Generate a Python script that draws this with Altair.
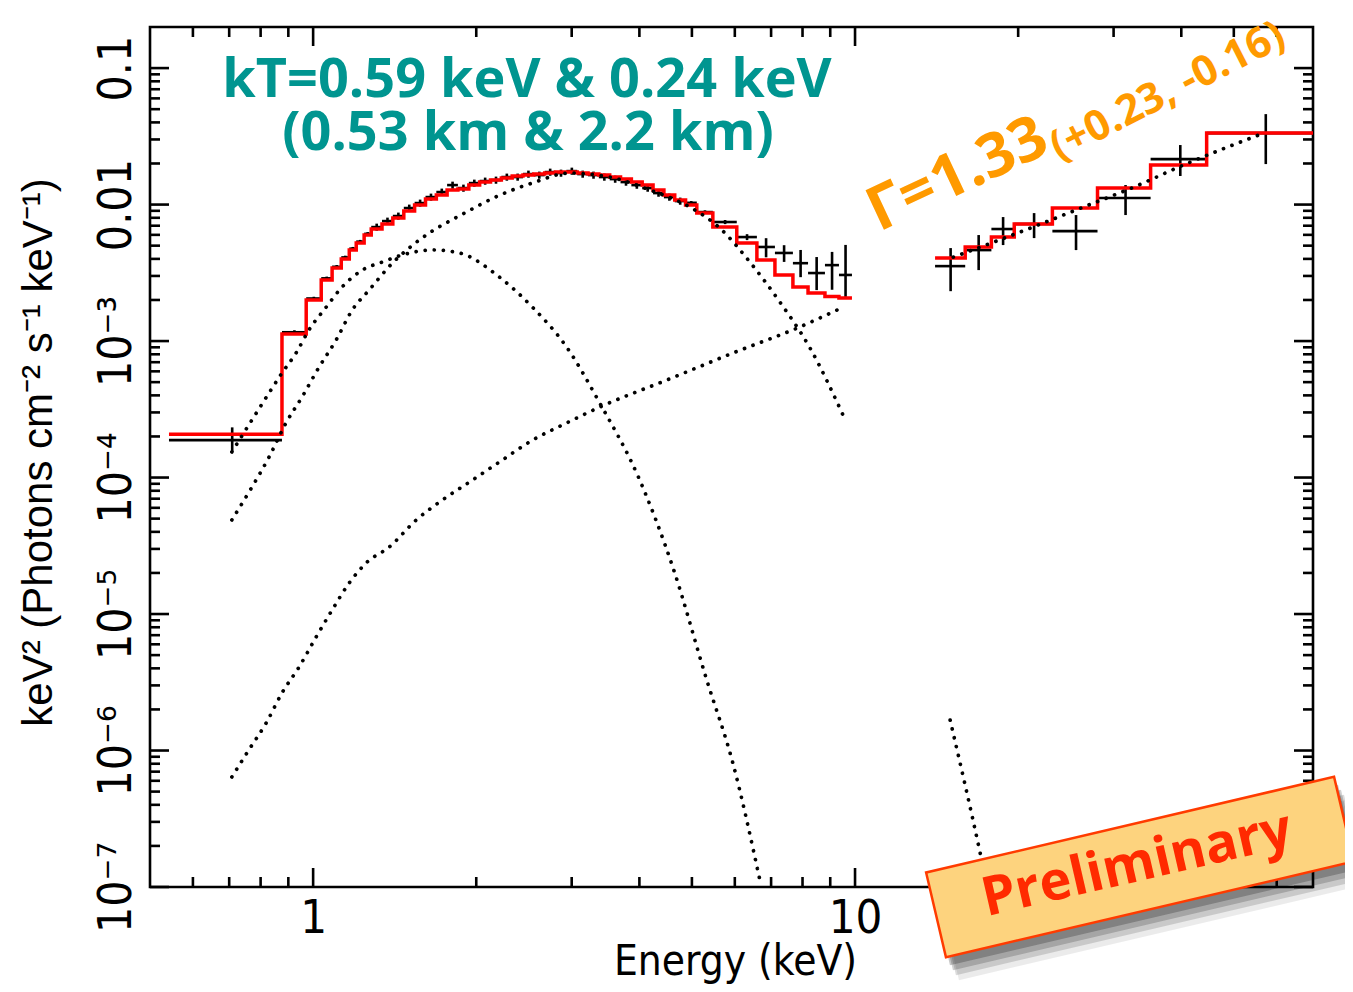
import altair as alt
import pandas as pd

# ---------------- spectrum data ----------------
# soft-band spectrum: bin edges in keV, data, relative errors and folded model
xmm_edges = [0.542, 0.876, 0.971, 1.035, 1.084, 1.127, 1.166, 1.201, 1.242,
             1.280, 1.340, 1.403, 1.470, 1.539, 1.612, 1.688, 1.767, 1.850,
             1.938, 2.029, 2.125, 2.225, 2.330, 2.439, 2.554, 2.675, 2.801,
             2.933, 3.071, 3.216, 3.367, 3.526, 3.692, 3.866, 4.048, 4.239,
             4.439, 4.648, 4.867, 5.105, 5.465, 6.05, 6.59, 7.115, 7.68,
             8.19, 8.80, 9.34, 9.87]
xmm_flux = [1.88e-4, 1.16e-3, 2.05e-3, 2.88e-3, 3.50e-3, 4.10e-3, 4.75e-3, 5.35e-3, 6.10e-3,
            0.00684, 0.00757, 0.00824, 0.00943, 0.01026, 0.01135, 0.01235, 0.01389, 0.01321, 0.01437,
            0.01487, 0.01512, 0.01591, 0.01591, 0.01673, 0.01645, 0.01730, 0.01701, 0.01759, 0.01673,
            0.01645, 0.01591, 0.01537, 0.01462, 0.01389, 0.01321, 0.01214, 0.01135, 0.01061,
            0.0103, 0.00881, 0.00745, 0.00578, 0.00489, 0.00442, 0.00372, 0.00315, 0.00360, 0.00305]
xmm_err_lo = [0.18, 0.035, 0.03, 0.03, 0.03, 0.03, 0.03, 0.03, 0.03,
              0.06, 0.06, 0.06, 0.06, 0.06, 0.06, 0.06, 0.06, 0.06, 0.06,
              0.06, 0.06, 0.06, 0.06, 0.06, 0.06, 0.06, 0.06, 0.06, 0.06,
              0.06, 0.06, 0.06, 0.06, 0.06, 0.06, 0.06, 0.06, 0.06,
              0.03, 0.03, 0.035, 0.05, 0.16, 0.14, 0.21, 0.25, 0.34, 0.31]
xmm_err_hi = [0.24, 0.035, 0.03, 0.03, 0.03, 0.03, 0.03, 0.03, 0.03,
              0.06, 0.06, 0.06, 0.06, 0.06, 0.06, 0.06, 0.06, 0.06, 0.06,
              0.06, 0.06, 0.06, 0.06, 0.06, 0.06, 0.06, 0.06, 0.06, 0.06,
              0.06, 0.06, 0.06, 0.06, 0.06, 0.06, 0.06, 0.06, 0.06,
              0.03, 0.03, 0.035, 0.05, 0.16, 0.14, 0.25, 0.31, 0.25, 0.66]
xmm_model = [2.08e-4, 1.125e-3, 1.995e-3, 2.80e-3, 3.43e-3, 3.99e-3, 4.65e-3, 5.23e-3, 5.98e-3,
             0.00661, 0.00720, 0.00796, 0.00897, 0.00992, 0.01097, 0.01174, 0.01277, 0.01299, 0.01389,
             0.01462, 0.01512, 0.01563, 0.01618, 0.01645, 0.01673, 0.01701, 0.01730, 0.01730, 0.01701,
             0.01673, 0.01645, 0.01591, 0.01537, 0.01462, 0.01389, 0.01277, 0.01174, 0.01079,
             0.00991, 0.00867, 0.00684, 0.00523, 0.00392, 0.00305, 0.00249, 0.00225, 0.00212, 0.00207]

# hard-band spectrum
nu_edges = [14.05, 15.97, 17.85, 19.67, 23.13, 28.02, 35.11, 44.55, 70.0]
nu_flux = [3.54e-3, 4.64e-3, 6.62e-3, 7.20e-3, 6.39e-3, 1.116e-2, 2.154e-2, 3.34e-2]
nu_flux_lo = [2.32e-3, 3.31e-3, 5.05e-3, 5.68e-3, 4.64e-3, 8.38e-3, 1.62e-2, 1.98e-2]
nu_flux_hi = [4.80e-3, 5.98e-3, 8.10e-3, 8.66e-3, 8.38e-3, 1.39e-2, 2.73e-2, 4.60e-2]
nu_model = [4.06e-3, 4.89e-3, 5.78e-3, 7.20e-3, 9.43e-3, 1.32e-2, 1.95e-2, 3.34e-2]

# model components (dotted)
bb_hot_e = [0.708, 0.771, 0.829, 0.891, 0.954, 1.026, 1.103, 1.181, 1.269, 1.400, 1.570,
            1.918, 2.207, 2.540, 2.973, 3.525, 4.179, 4.955, 5.629, 6.397, 7.267, 8.26, 9.502]
bb_hot_f = [4.89e-5, 8.51e-5, 1.41e-4, 2.51e-4, 3.89e-4, 6.46e-4, 1.02e-3, 1.69e-3, 2.37e-3,
            3.72e-3, 5.50e-3, 8.81e-3, 1.17e-2, 1.44e-2, 1.70e-2, 1.59e-2, 1.28e-2, 9.59e-3,
            6.73e-3, 3.79e-3, 1.93e-3, 8.88e-4, 2.87e-4]
bb_cool_e = [0.708, 0.771, 0.829, 0.876, 0.930, 0.983, 1.057, 1.131, 1.232, 1.341, 1.460,
             1.660, 1.862, 2.207, 2.540, 2.936, 3.379, 4.005, 4.609, 5.326, 5.950, 6.675]
bb_cool_f = [1.54e-4, 2.64e-4, 4.16e-4, 5.83e-4, 8.17e-4, 1.21e-3, 1.77e-3, 2.49e-3, 3.31e-3,
             3.79e-3, 4.27e-3, 4.65e-3, 4.42e-3, 2.94e-3, 1.77e-3, 9.04e-4, 3.52e-4, 9.6e-5,
             2.21e-5, 3.28e-6, 8.09e-7, 1.12e-7]
pl_soft_e = [0.708, 0.761, 0.819, 0.876, 0.942, 1.013, 1.084, 1.166, 1.253, 1.382, 1.550,
             1.731, 1.943, 2.207, 2.540, 2.936, 3.379, 4.492, 5.950, 7.912, 9.502]
pl_soft_f = [6.40e-7, 1.01e-6, 1.59e-6, 2.64e-6, 4.09e-6, 6.79e-6, 1.07e-5, 1.69e-5, 2.37e-5,
             3.10e-5, 4.89e-5, 6.84e-5, 9.27e-5, 1.30e-4, 1.88e-4, 2.51e-4, 3.28e-4, 5.18e-4,
             8.17e-4, 1.27e-3, 1.77e-3]
pl_hard_e = [15.18, 19.93, 26.39, 32.65, 40.38, 56.78]
pl_hard_f = [4.12e-3, 6.18e-3, 9.59e-3, 1.34e-2, 1.95e-2, 3.34e-2]
bb_hard_e = [14.98, 17.02, 17.5]
bb_hard_f = [1.67e-6, 1.77e-7, 1.05e-7]

# axis ticks and labels
x_major = [1, 10]
x_minor = [0.6, 0.7, 0.8, 0.9, 2, 3, 4, 5, 6, 7, 8, 9, 20, 30, 40, 50, 60]
y_major = [1e-7, 1e-6, 1e-5, 1e-4, 1e-3, 0.01, 0.1]
y_major_labels = ["10⁻⁷", "10⁻⁶", "10⁻⁵", "10⁻⁴", "10⁻³", "0.01", "0.1"]
y_minor_mult = [2, 3, 4, 5, 6, 7, 8, 9]

x_title = "Energy (keV)"
y_title = "keV² (Photons cm⁻² s⁻¹ keV⁻¹)"
kt_line1 = "kT=0.59 keV & 0.24 keV"
kt_line2 = "(0.53 km & 2.2 km)"
gamma_main = "Γ=1.33"
gamma_err = "(+0.23, -0.16)"
stamp = "Preliminary"

# ---------------- tables ----------------
bins = []
for i, f in enumerate(xmm_flux):
    lo, hi = xmm_edges[i], xmm_edges[i + 1]
    bins.append(dict(seg="soft", e_lo=lo, e_hi=hi, e_c=(lo + hi) / 2, flux=f,
                     flux_lo=f * (1 - xmm_err_lo[i]), flux_hi=f * (1 + xmm_err_hi[i])))
for i, f in enumerate(nu_flux):
    lo, hi = nu_edges[i], nu_edges[i + 1]
    bins.append(dict(seg="hard", e_lo=lo, e_hi=hi, e_c=(lo + hi) / 2, flux=f,
                     flux_lo=nu_flux_lo[i], flux_hi=nu_flux_hi[i]))
bins_df = pd.DataFrame(bins)

steps = []
for seg, edges, model in [("soft", xmm_edges, xmm_model), ("hard", nu_edges, nu_model)]:
    for i, m in enumerate(model):
        steps.append(dict(seg=seg, o=2 * i, e=edges[i], f=m))
        steps.append(dict(seg=seg, o=2 * i + 1, e=edges[i + 1], f=m))
step_df = pd.DataFrame(steps)

comps = []
for name, es, fs in [("bb_hot", bb_hot_e, bb_hot_f), ("bb_cool", bb_cool_e, bb_cool_f),
                     ("pl_soft", pl_soft_e, pl_soft_f), ("pl_hard", pl_hard_e, pl_hard_f),
                     ("bb_hard", bb_hard_e, bb_hard_f)]:
    for i, (e, f) in enumerate(zip(es, fs)):
        comps.append(dict(comp=name, o=i, e=e, f=f))
comp_df = pd.DataFrame(comps)

y_minor = [d * m for d in y_major[:-1] for m in y_minor_mult]

# ---------------- chart ----------------
W, H = 1163, 860
LW = 2.6
NARROW = "Liberation Sans Narrow, DejaVu Sans Condensed, Liberation Sans, sans-serif"
REG = "Liberation Sans, Arial, sans-serif"
BOLD = "Open Sans, Noto Sans, sans-serif"

xs = alt.Scale(type="log", domain=[0.5, 70], nice=False)
ys = alt.Scale(type="log", domain=[1e-7, 0.2], nice=False)

label_expr = ""
for v, lab in zip(y_major, y_major_labels):
    label_expr += f"abs(datum.value - {v}) < {v * 0.01} ? '{lab}' : "
label_expr += "''"

x_axis = alt.Axis(values=x_major, format="~g", grid=False, ticks=False, domain=False, tickSize=0,
                  labelFont=NARROW, labelFontSize=47, labelPadding=8, labelBaseline="top",
                  labelColor="black", labelFlush=False, labelOverlap=False,
                  title=x_title, titleFont=NARROW, titleFontSize=42, titleFontWeight="normal",
                  titleColor="black", titleX=585, titleY=87, titleAlign="center",
                  titleBaseline="alphabetic")
y_axis = alt.Axis(values=y_major, labelExpr=label_expr, grid=False, ticks=False, domain=False,
                  tickSize=0, labelFont=NARROW, labelFontSize=46, labelAngle=270,
                  labelAlign="center", labelBaseline="alphabetic", labelPadding=20,
                  labelColor="black", labelFlush=False, labelOverlap=False,
                  title=y_title, titleFont=REG, titleFontSize=42, titleFontWeight="normal",
                  titleColor="black", titleAngle=270, titleX=-112, titleY=425,
                  titleAlign="center", titleBaseline="middle")

hbar = alt.Chart(bins_df).mark_rule(color="black", strokeWidth=LW).encode(
    x=alt.X("e_lo:Q", scale=xs, axis=x_axis), x2="e_hi:Q",
    y=alt.Y("flux:Q", scale=ys, axis=y_axis))
vbar = alt.Chart(bins_df).mark_rule(color="black", strokeWidth=LW).encode(
    x=alt.X("e_c:Q", scale=xs), y=alt.Y("flux_lo:Q", scale=ys), y2="flux_hi:Q")
model_line = alt.Chart(step_df).mark_line(color="#FF0000", strokeWidth=3.5, strokeJoin="miter").encode(
    x=alt.X("e:Q", scale=xs), y=alt.Y("f:Q", scale=ys), detail="seg:N", order="o:Q")
comp_lines = alt.Chart(comp_df).mark_line(color="black", strokeWidth=3.7, strokeDash=[0.1, 9.0],
                                          strokeCap="round", interpolate="monotone", clip=True).encode(
    x=alt.X("e:Q", scale=xs), y=alt.Y("f:Q", scale=ys), detail="comp:N", order="o:Q")

tick_layers = []
for vals, ln in [(x_major, 19), (x_minor, 10)]:
    df = pd.DataFrame({"v": vals})
    tick_layers.append(alt.Chart(df).mark_rule(color="black", strokeWidth=LW).encode(
        x=alt.X("v:Q", scale=xs), y=alt.value(H), y2=alt.value(H - ln)))
    tick_layers.append(alt.Chart(df).mark_rule(color="black", strokeWidth=LW).encode(
        x=alt.X("v:Q", scale=xs), y=alt.value(0), y2=alt.value(ln)))
for vals, ln in [(y_major, 19), (y_minor, 10)]:
    df = pd.DataFrame({"v": vals})
    tick_layers.append(alt.Chart(df).mark_rule(color="black", strokeWidth=LW).encode(
        y=alt.Y("v:Q", scale=ys), x=alt.value(0), x2=alt.value(ln)))
    tick_layers.append(alt.Chart(df).mark_rule(color="black", strokeWidth=LW).encode(
        y=alt.Y("v:Q", scale=ys), x=alt.value(W), x2=alt.value(W - ln)))


def text_layer(txt, x, y, size, color, angle=0, align="center", baseline="alphabetic",
               font=BOLD, weight="bold"):
    return alt.Chart(pd.DataFrame({"t": [txt]})).mark_text(
        align=align, baseline=baseline, font=font, fontSize=size, fontWeight=weight,
        color=color, angle=angle).encode(x=alt.value(x), y=alt.value(y), text="t:N")


TEAL = "#009590"
ORANGE = "#FF9A00"
annots = [
    text_layer(kt_line1, 377, 70, 54, TEAL),
    text_layer(kt_line2, 378, 123, 54, TEAL),
    text_layer(gamma_main, 729, 205, 61, ORANGE, angle=335, align="left"),
    text_layer(gamma_err, 909, 134, 42, ORANGE, angle=333, align="left"),
]

box_path = "M-1,-0.2075L1,-0.2075L1,0.2075L-1,0.2075Z"
box_df = pd.DataFrame({"k": [0]})
BOX_X, BOX_Y = 990, 840
shadows = []
for dx, dy, op in [(4, 8, 0.22), (7, 13, 0.18), (10, 18, 0.14), (13, 23, 0.08)]:
    shadows.append(alt.Chart(box_df).mark_point(
        shape=box_path, size=175561, angle=346.8, filled=True, fill="black",
        fillOpacity=op, strokeWidth=0, opacity=1, xOffset=dx, yOffset=dy).encode(
        x=alt.value(BOX_X), y=alt.value(BOX_Y)))
box = alt.Chart(box_df).mark_point(
    shape=box_path, size=175561, angle=346.8, filled=True, fill="#FDD37E", fillOpacity=1,
    stroke="#FF3B00", strokeWidth=2.5, opacity=1).encode(x=alt.value(BOX_X), y=alt.value(BOX_Y))
stamp_text = text_layer(stamp, 987, 838, 54, "#FF2A00", angle=347, baseline="middle")

chart = alt.layer(
    hbar, vbar, model_line, comp_lines, *tick_layers, *annots, *shadows, box, stamp_text
).properties(
    width=W, height=H,
    padding={"left": 142, "top": 19, "right": 32, "bottom": 97},
    autosize=alt.AutoSizeParams(type="none"),
).configure_view(stroke="black", strokeWidth=LW).configure_axis(grid=False)

chart.save("out.html", embed_options={"renderer": "svg", "actions": False})
